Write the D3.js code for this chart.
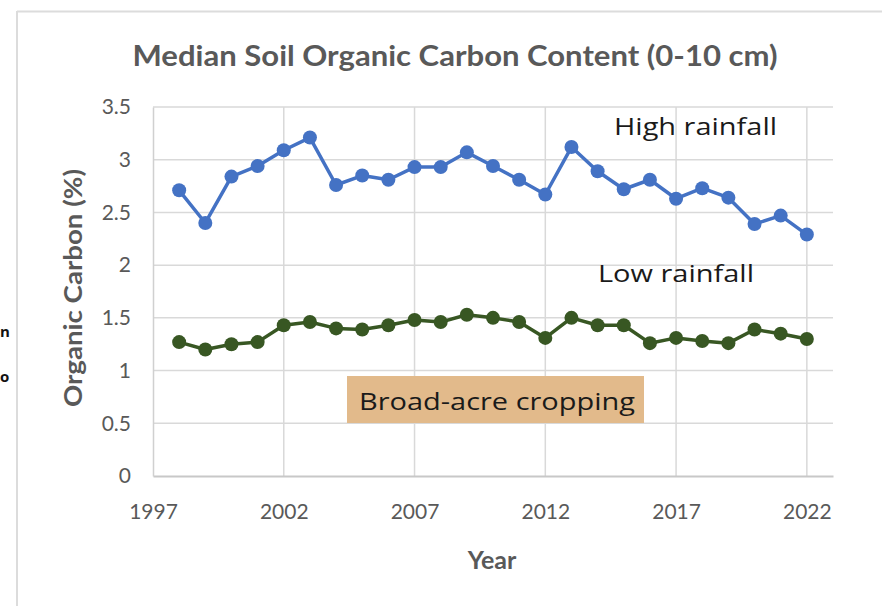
<!DOCTYPE html>
<html>
<head>
<meta charset="utf-8">
<script src="https://cdn.jsdelivr.net/npm/d3@7"></script>
<style>
  html, body { margin: 0; padding: 0; background: #fff; }
  svg { display: block; }
</style>
</head>
<body>
<svg id="chart" width="882" height="606"></svg>
<script>
// ---- data ----
const years = [1998, 1999, 2000, 2001, 2002, 2003, 2004, 2005, 2006, 2007, 2008, 2009, 2010,
               2011, 2012, 2013, 2014, 2015, 2016, 2017, 2018, 2019, 2020, 2021, 2022];
const highRainfall = [2.71, 2.40, 2.84, 2.94, 3.09, 3.21, 2.76, 2.85, 2.81, 2.93, 2.93, 3.07, 2.94,
                      2.81, 2.67, 3.12, 2.89, 2.72, 2.81, 2.63, 2.73, 2.64, 2.39, 2.47, 2.29];
const lowRainfall = [1.27, 1.20, 1.25, 1.27, 1.43, 1.46, 1.40, 1.39, 1.43, 1.48, 1.46, 1.53, 1.50,
                     1.46, 1.31, 1.50, 1.43, 1.43, 1.26, 1.31, 1.28, 1.26, 1.39, 1.35, 1.30];
const xTicks = [1997, 2002, 2007, 2012, 2017, 2022];
const yTicks = [0, 0.5, 1, 1.5, 2, 2.5, 3, 3.5];
const titleText = "Median Soil Organic Carbon Content (0-10 cm)";
const xTitle = "Year";
const yTitle = "Organic Carbon (%)";
const labelHigh = "High rainfall";
const labelLow = "Low rainfall";
const labelBox = "Broad-acre cropping";
const edgeFragments = ["n", "o"];

// ---- layout ----
const svg = d3.select("#chart");
const x = d3.scaleLinear().domain([1997, 2023]).range([153, 833]);
const y = d3.scaleLinear().domain([0, 3.5]).range([476, 107]);
const narrow = "Lato, 'Open Sans', sans-serif";
const body = "'Open Sans', 'Noto Sans', sans-serif";
const gray = "#595959";

// frame of the screenshot
svg.append("line").attr("x1", 17).attr("x2", 882).attr("y1", 11.5).attr("y2", 11.5)
  .attr("stroke", "#dcdcdc").attr("stroke-width", 2);
svg.append("line").attr("x1", 17).attr("x2", 17).attr("y1", 11).attr("y2", 606)
  .attr("stroke", "#dcdcdc").attr("stroke-width", 2);

// fragments of neighbouring text on the left edge
svg.append("text").attr("x", 0).attr("y", 337).attr("font-family", body).attr("font-weight", "bold")
  .attr("font-size", 15).attr("fill", "#111").text(edgeFragments[0]);
svg.append("text").attr("x", 0).attr("y", 382).attr("font-family", body).attr("font-weight", "bold")
  .attr("font-size", 15).attr("fill", "#111").text(edgeFragments[1]);

// gridlines
svg.append("g").selectAll("line").data(yTicks.filter(d => d > 0)).join("line")
  .attr("x1", x(1997)).attr("x2", x(2023)).attr("y1", d => y(d)).attr("y2", d => y(d))
  .attr("stroke", "#d9d9d9").attr("stroke-width", 1.5);
svg.append("g").selectAll("line").data(xTicks.filter(d => d > 1997)).join("line")
  .attr("x1", d => x(d)).attr("x2", d => x(d)).attr("y1", y(0)).attr("y2", y(3.5))
  .attr("stroke", "#d9d9d9").attr("stroke-width", 1.5);

// axes
const xAxis = svg.append("g").attr("transform", `translate(0,${y(0)})`)
  .call(d3.axisBottom(x).tickValues(xTicks).tickFormat(d3.format("d")).tickSize(0).tickPadding(28));
xAxis.select(".domain").attr("stroke", "#c8c8c8").attr("stroke-width", 2);
xAxis.selectAll("text").attr("font-family", narrow).attr("font-size", 21).attr("fill", gray);

const yAxis = svg.append("g").attr("transform", `translate(${x(1997)},0)`)
  .call(d3.axisLeft(y).tickValues(yTicks).tickFormat(d3.format("")).tickSize(0).tickPadding(22));
yAxis.select(".domain").attr("stroke", "#d0d0d0").attr("stroke-width", 1.5);
yAxis.selectAll("text").attr("font-family", narrow).attr("font-size", 21).attr("fill", gray);

// series
function drawSeries(values, color) {
  const pts = years.map((yr, i) => [yr, values[i]]);
  svg.append("path").datum(pts)
    .attr("fill", "none").attr("stroke", color).attr("stroke-width", 3.5)
    .attr("stroke-linejoin", "round")
    .attr("d", d3.line().x(d => x(d[0])).y(d => y(d[1])));
  svg.append("g").selectAll("circle").data(pts).join("circle")
    .attr("cx", d => x(d[0])).attr("cy", d => y(d[1])).attr("r", 7)
    .attr("fill", color);
}
drawSeries(highRainfall, "#4472C4");
drawSeries(lowRainfall, "#385723");

// title
svg.append("text").attr("x", 455).attr("y", 66).attr("text-anchor", "middle")
  .attr("font-family", narrow).attr("font-weight", "bold").attr("font-size", 28).attr("fill", gray)
  .attr("textLength", 645).attr("lengthAdjust", "spacingAndGlyphs")
  .text(titleText);

// axis titles
svg.append("text").attr("x", 492).attr("y", 569).attr("text-anchor", "middle")
  .attr("font-family", narrow).attr("font-weight", "bold").attr("font-size", 25).attr("fill", gray)
  .text(xTitle);
svg.append("text").attr("transform", "translate(82,288) rotate(-90)").attr("text-anchor", "middle")
  .attr("font-family", narrow).attr("font-weight", "bold").attr("font-size", 25).attr("fill", gray)
  .attr("textLength", 238).attr("lengthAdjust", "spacingAndGlyphs")
  .text(yTitle);

// annotations
svg.append("text").attr("x", 614).attr("y", 135).attr("font-family", body).attr("font-size", 23)
  .attr("fill", "#1a1a1a").attr("textLength", 163).attr("lengthAdjust", "spacingAndGlyphs").text(labelHigh);
svg.append("text").attr("x", 598).attr("y", 282).attr("font-family", body).attr("font-size", 23)
  .attr("fill", "#1a1a1a").attr("textLength", 156).attr("lengthAdjust", "spacingAndGlyphs").text(labelLow);
svg.append("rect").attr("x", 347).attr("y", 376).attr("width", 297).attr("height", 47).attr("fill", "#E2BA8B");
svg.append("text").attr("x", 359).attr("y", 410).attr("font-family", body).attr("font-size", 24)
  .attr("fill", "#1a1a1a").attr("textLength", 276).attr("lengthAdjust", "spacingAndGlyphs").text(labelBox);
</script>
</body>
</html>
